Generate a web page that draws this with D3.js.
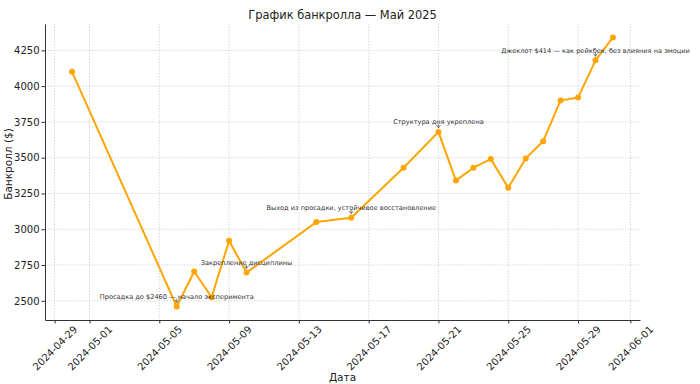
<!DOCTYPE html>
<html><head><meta charset="utf-8">
<script src="https://cdn.jsdelivr.net/npm/d3@7"></script>
<style>
html,body{margin:0;padding:0;background:#fff;}
svg text{font-family:"DejaVu Sans",sans-serif;}
</style></head>
<body><svg id="chart" width="700" height="384"></svg>
<script>
const dates = ["2024-04-30","2024-05-06","2024-05-07","2024-05-08","2024-05-09","2024-05-10","2024-05-14","2024-05-16","2024-05-19","2024-05-21","2024-05-22","2024-05-23","2024-05-24","2024-05-25","2024-05-26","2024-05-27","2024-05-28","2024-05-29","2024-05-30","2024-05-31"];
const values = [4100,2460,2705,2525,2920,2697,3050,3080,3430,3680,3340,3430,3490,3290,3495,3615,3900,3920,4180,4340];
const noteDates = ["2024-05-06","2024-05-10","2024-05-16","2024-05-21","2024-05-30"];
const noteTexts = ["Просадка до $2460 — начало эксперимента","Закрепление дисциплины","Выход из просадки, устойчивое восстановление","Структура дня укреплена","Джеклот $414 — как рейкбек, без влияния на эмоции"];
const xTickLabels = ["2024-04-29","2024-05-01","2024-05-05","2024-05-09","2024-05-13","2024-05-17","2024-05-21","2024-05-25","2024-05-29","2024-06-01"];
const yTickValues = [2500,2750,3000,3250,3500,3750,4000,4250];
const chartTitle = "График банкролла — Май 2025";
const xLabel = "Дата";
const yLabel = "Банкролл ($)";

const parse = d3.utcParse("%Y-%m-%d");
const pts = dates.map((d,i)=>({d:parse(d), v:values[i]}));
const mLeft=45, mRight=640, mTop=24, mBottom=320;
const t0 = d3.min(pts,p=>p.d).getTime(), t1 = d3.max(pts,p=>p.d).getTime();
const xm = (t1-t0)*0.05;
const x = d3.scaleUtc().domain([new Date(t0-xm), new Date(t1+xm)]).range([mLeft,mRight]);
const vmin = d3.min(values), vmax = d3.max(values), ym=(vmax-vmin)*0.05;
const y = d3.scaleLinear().domain([vmin-ym, vmax+ym]).range([mBottom,mTop]);

const svg = d3.select("#chart");
const xTicks = xTickLabels.map(parse);

// grid
const grid = svg.append("g");
grid.selectAll("line.v").data(xTicks).enter().append("line")
  .attr("x1",d=>x(d)).attr("x2",d=>x(d)).attr("y1",mTop).attr("y2",mBottom)
  .attr("stroke","#c8c8c8").attr("stroke-width",0.8).attr("stroke-dasharray","1.3,1.6");
grid.selectAll("line.h").data(yTickValues).enter().append("line")
  .attr("x1",mLeft).attr("x2",mRight).attr("y1",d=>y(d)).attr("y2",d=>y(d))
  .attr("stroke","#c8c8c8").attr("stroke-width",0.8).attr("stroke-dasharray","1.3,1.6");

// axes
const xAxis = d3.axisBottom(x).tickValues(xTicks).tickSize(3.5).tickSizeOuter(0).tickPadding(2).tickFormat(d3.utcFormat("%Y-%m-%d"));
const gx = svg.append("g").attr("transform",`translate(0,${mBottom})`).call(xAxis);
gx.select(".domain").attr("stroke","#333").attr("stroke-width",1);
gx.selectAll(".tick line").attr("stroke","#333");
gx.selectAll(".tick text").attr("font-size","10px").attr("fill","#222")
  .attr("text-anchor","middle").attr("dy",null).attr("y",null)
  .attr("dominant-baseline","central")
  .attr("transform","translate(0,28) rotate(-45)");

const yAxis = d3.axisLeft(y).tickValues(yTickValues).tickSize(3.5).tickSizeOuter(0).tickPadding(2).tickFormat(d3.format("d"));
const gy = svg.append("g").attr("transform",`translate(${mLeft},0)`).call(yAxis);
gy.select(".domain").attr("stroke","#333").attr("stroke-width",1);
gy.selectAll(".tick line").attr("stroke","#333");
gy.selectAll(".tick text").attr("font-size","10px").attr("fill","#222");

// line
const line = d3.line().x(p=>x(p.d)).y(p=>y(p.v));
svg.append("path").datum(pts).attr("d",line).attr("fill","none")
  .attr("stroke","#FFA500").attr("stroke-width",2).attr("stroke-linejoin","round");
svg.selectAll("circle.pt").data(pts).enter().append("circle")
  .attr("cx",p=>x(p.d)).attr("cy",p=>y(p.v)).attr("r",3).attr("fill","#FFA500");

// annotations
const notes = noteDates.map((d,i)=>{const dd=parse(d); const p=pts.find(q=>q.d.getTime()===dd.getTime()); return {d:dd, v:p.v, t:noteTexts[i]};});
const ng = svg.append("g");
notes.forEach(n=>{
  const px=x(n.d), py=y(n.v);
  ng.append("path").attr("d",`M${px},${py-8}L${px},${py-4}M${px-2},${py-7}L${px},${py-4}L${px+2},${py-7}`)
    .attr("fill","none").attr("stroke","#666").attr("stroke-width",0.8);
  ng.append("text").attr("x",px).attr("y",py-7.7).attr("text-anchor","middle")
    .attr("font-size","6.6px").attr("fill","#333").text(n.t);
});

// labels
svg.append("text").attr("x",(mLeft+mRight)/2).attr("y",19).attr("text-anchor","middle")
  .attr("font-size","11.4px").attr("fill","#222").text(chartTitle);
svg.append("text").attr("x",(mLeft+mRight)/2).attr("y",381).attr("text-anchor","middle")
  .attr("font-size","10.5px").attr("fill","#222").text(xLabel);
svg.append("text").attr("transform",`translate(12,164) rotate(-90)`).attr("text-anchor","middle")
  .attr("font-size","10.5px").attr("fill","#222").text(yLabel);
</script></body></html>
